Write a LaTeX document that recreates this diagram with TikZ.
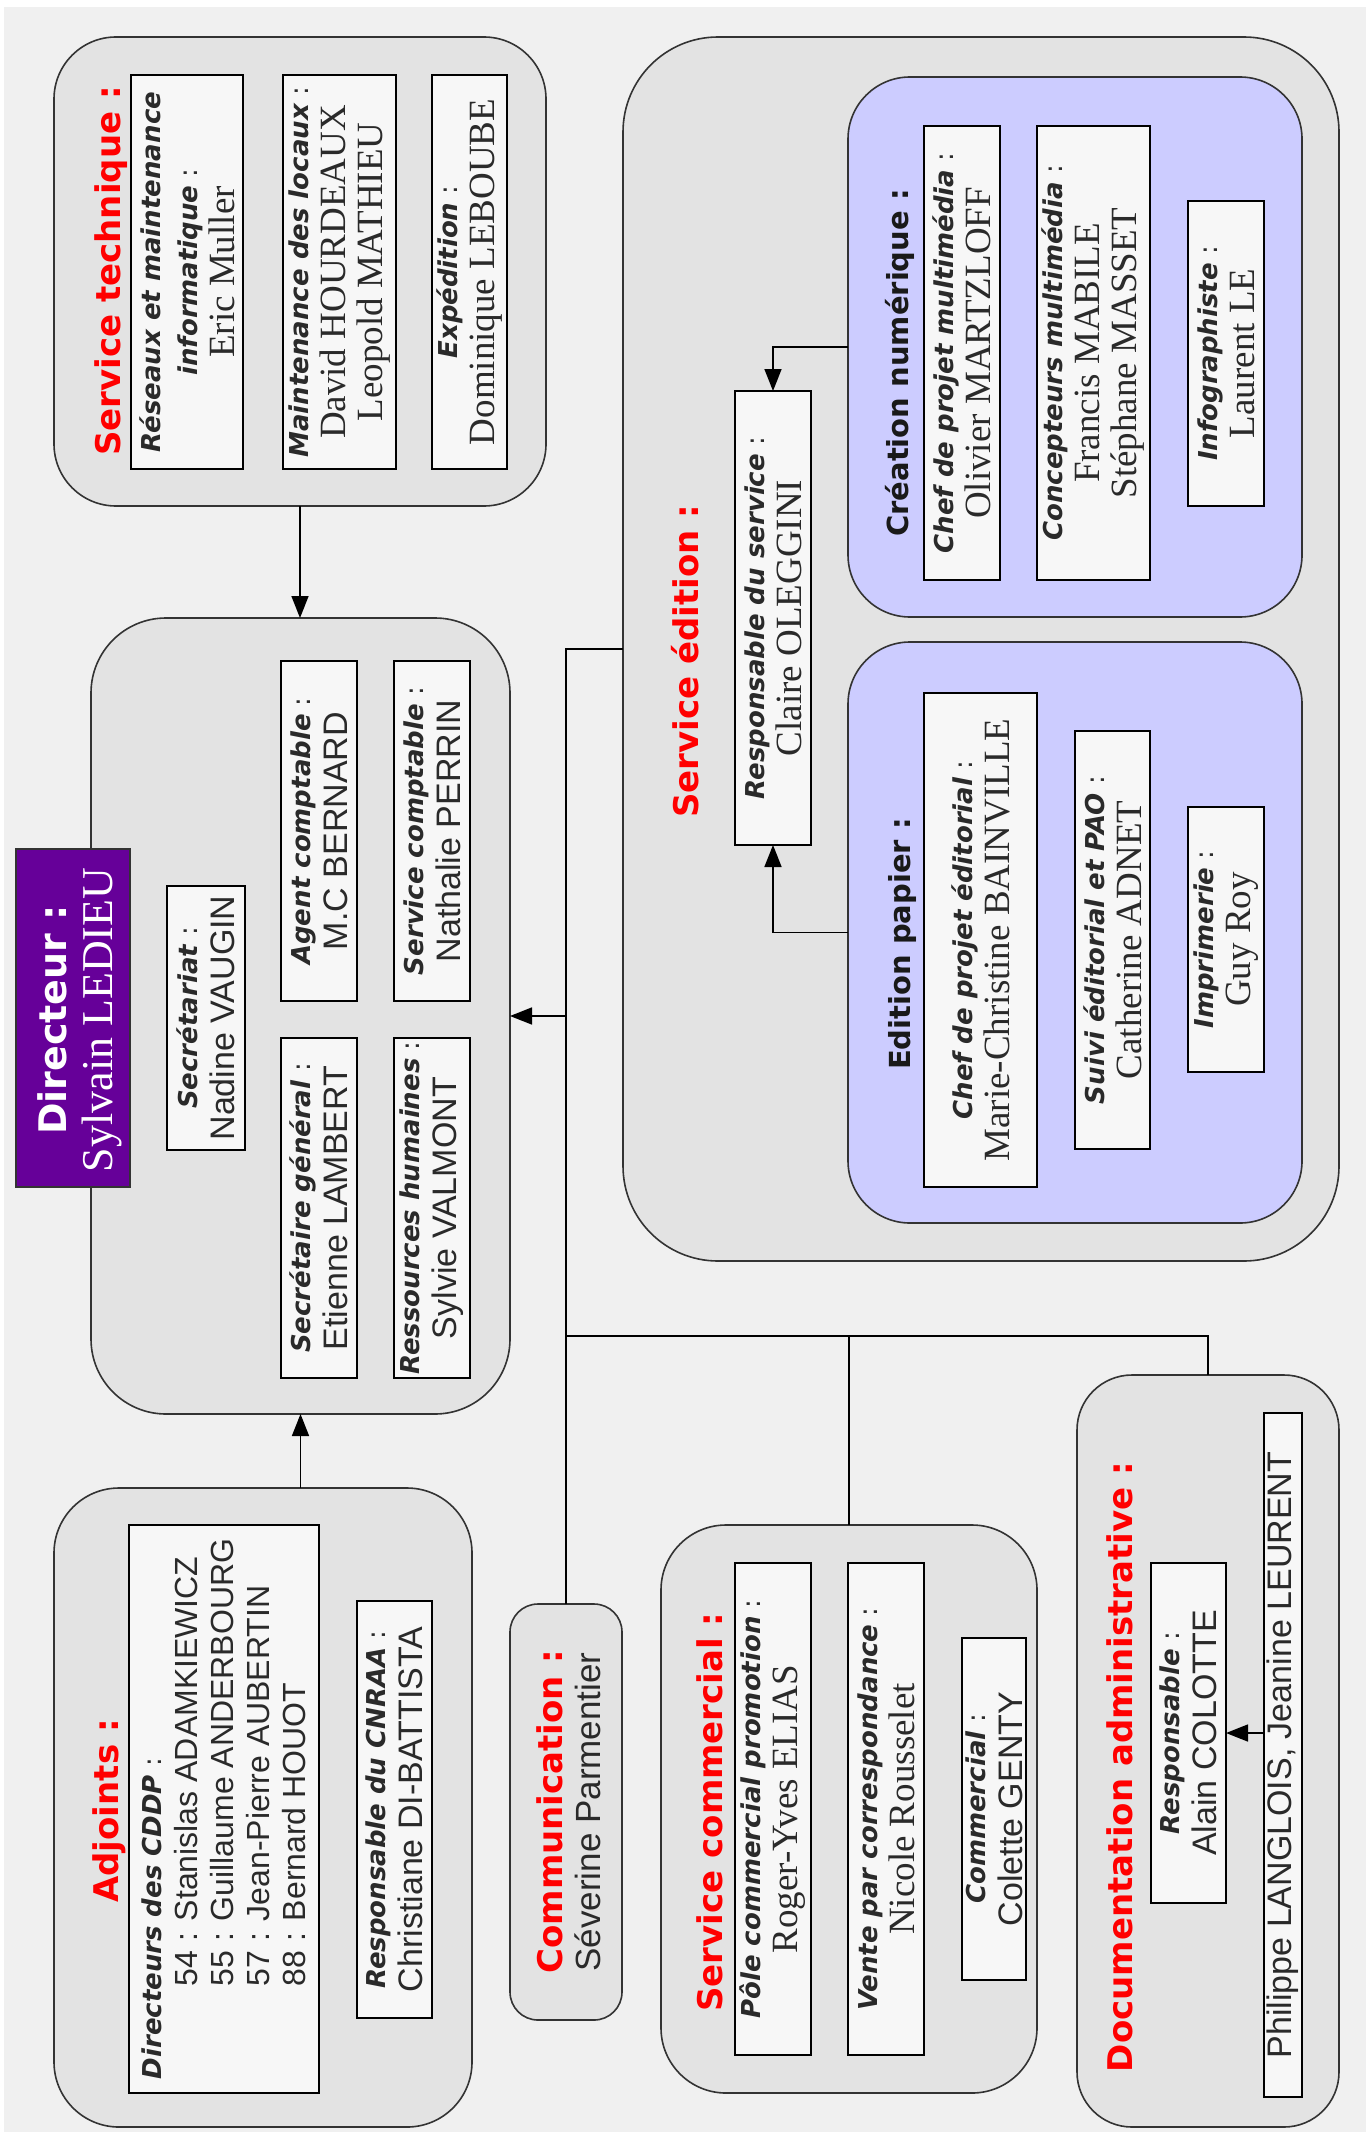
\documentclass[tikz,border=0pt]{standalone}
\usepackage{fontspec}
\setmainfont{Liberation Serif}
\newfontfamily\dvs{DejaVu Sans}
\newfontfamily\lsans{Liberation Sans}
\usetikzlibrary{arrows.meta}
\definecolor{bgc}{HTML}{F0F0F0}
\definecolor{grpc}{HTML}{E3E3E3}
\definecolor{innc}{HTML}{F7F7F7}
\definecolor{lavc}{HTML}{CCCCFF}
\definecolor{purpc}{HTML}{660099}
\definecolor{redc}{HTML}{FF0000}
\definecolor{inkc}{HTML}{2A2A2A}
\newcommand\lbl[1]{{\dvs\fontsize{26}{37}\selectfont\textbf{\textit{#1}}\ :}}
\newcommand\lbn[1]{{\dvs\fontsize{26}{37}\selectfont\textbf{\textit{#1}}}}
\newcommand\srf[1]{{\rmfamily\fontsize{37}{37}\selectfont #1}}
\newcommand\sns[1]{{\lsans\fontsize{34}{37}\selectfont #1}}
\newcommand\obox[6]{%
  \pgfmathsetmacro\ow{#5-#3}\pgfmathsetmacro\oh{#6-#4}%
  \node[#2, minimum width=\ow pt, minimum height=\oh pt, inner sep=0pt, outer sep=0pt, anchor=north west] (#1) at (#3,#4) {};}
\begin{document}
\begin{tikzpicture}[x=1pt,y=-1pt,
  grp/.style={draw=black!80, line width=1.6pt, fill=grpc},
  inb/.style={draw=black, line width=1.6pt, fill=innc},
  lavb/.style={draw=black!80, line width=1.6pt, fill=lavc},
  tx/.style={rotate=90, align=center, inner sep=0pt, text=inkc, font=\fontsize{35}{37}\selectfont},
  ttl/.style={rotate=90, anchor=base, inner sep=0pt, text=redc, font=\dvs\bfseries\fontsize{34}{40}\selectfont},
  sttl/.style={rotate=90, anchor=base, inner sep=0pt, text=black!90, font=\dvs\bfseries\fontsize{29}{34}\selectfont},
  conn/.style={line width=1.6pt, draw=black},
  arr/.style={conn, -{Triangle[length=22pt,width=17pt]}}]
\useasboundingbox (0,0) rectangle (1366,2132);
\fill[bgc] (0,0) rectangle (1366,2132);
\fill[white] (0,0) rectangle (1366,7);
\fill[white] (0,0) rectangle (4,2132);

% ---- group boxes
\obox{tech}{grp, rounded corners=62pt}{54}{37}{546}{506}
\obox{dirg}{grp, rounded corners=75pt}{91}{618}{510}{1414}
\obox{adj}{grp, rounded corners=65pt}{54}{1488}{472}{2127}
\obox{comm}{grp, rounded corners=28pt}{510}{1604}{622}{2020}
\obox{edit}{grp, rounded corners=95pt}{623}{37}{1339}{1261}
\obox{crea}{lavb, rounded corners=62pt}{848}{77}{1302}{617}
\obox{pap}{lavb, rounded corners=62pt}{848}{642}{1302}{1223}
\obox{scom}{grp, rounded corners=65pt}{661}{1525}{1037}{2093}
\obox{doc}{grp, rounded corners=55pt}{1077}{1375}{1339}{2127}

% ---- service technique
\node[ttl] (techT) at (120,271) {Service technique :};
\obox{t1}{inb}{131}{75}{243}{469}
\obox{t2}{inb}{283}{75}{396}{469}
\obox{t3}{inb}{432}{75}{507}{469}
\node[tx] (t1x) at (t1.center) {\lbn{Réseaux et maintenance}\\\lbl{informatique}\\\srf{Eric Muller}};
\node[tx] (t2x) at (t2.center) {\lbl{Maintenance des locaux}\\\srf{David HOURDEAUX}\\\srf{Leopold MATHIEU}};
\node[tx] (t3x) at (t3.center) {\lbl{Expédition}\\\srf{Dominique LEBOUBE}};

% ---- direction
\obox{sec}{inb}{167}{886}{245}{1150}
\obox{agent}{inb}{281}{661}{357}{1001}
\obox{scpt}{inb}{394}{661}{470}{1001}
\obox{sgen}{inb}{281}{1038}{357}{1378}
\obox{rh}{inb}{394}{1038}{470}{1378}
\node[tx] (secx) at (sec.center) {\lbl{Secrétariat}\\\sns{Nadine VAUGIN}};
\node[tx] (agentx) at (agent.center) {\lbl{Agent comptable}\\\sns{M.C BERNARD}};
\node[tx] (scptx) at (scpt.center) {\lbl{Service comptable}\\\sns{Nathalie PERRIN}};
\node[tx] (sgenx) at (sgen.center) {\lbl{Secrétaire général}\\\sns{Etienne LAMBERT}};
\node[tx] (rhx) at (rh.center) {\lbl{Ressources humaines}\\\sns{Sylvie VALMONT}};
\obox{dir}{draw=black!80, line width=1.6pt, fill=purpc}{16}{849}{130}{1187}
\node[tx, text=white, font=\fontsize{44}{46}\selectfont] (dirx) at (80,1020) {{\dvs\bfseries\fontsize{38}{46}\selectfont Directeur :}\\{\rmfamily Sylvain LEDIEU}};

% ---- adjoints
\node[ttl] (adjT) at (118,1811) {Adjoints :};
\obox{cddp}{inb}{129}{1525}{319}{2093}
\obox{cnraa}{inb}{357}{1601}{432}{2018}
\node[tx, align=left, font=\lsans\fontsize{32}{36}\selectfont] (cddpx) at (cddp.center) {\lbl{Directeurs des CDDP}\\
\hspace*{93pt}54 : Stanislas ADAMKIEWICZ\\
\hspace*{93pt}55 : Guillaume ANDERBOURG\\
\hspace*{93pt}57 : Jean-Pierre AUBERTIN\\
\hspace*{93pt}88 : Bernard HOUOT};
\node[tx] (cnraax) at (cnraa.center) {\lbl{Responsable du CNRAA}\\\sns{Christiane DI-BATTISTA}};

% ---- communication
\node[ttl] (commT) at (562,1812) {Communication :};
\node[rotate=90, anchor=base, inner sep=0pt, text=inkc, font=\lsans\fontsize{35}{37}\selectfont] (commx) at (600,1812) {Séverine Parmentier};

% ---- service commercial
\node[ttl] (scomT) at (722,1812) {Service commercial :};
\obox{pole}{inb}{735}{1563}{811}{2055}
\obox{vente}{inb}{848}{1563}{924}{2055}
\obox{comml}{inb}{962}{1638}{1026}{1980}
\node[tx] (polex) at (pole.center) {\lbl{Pôle commercial promotion}\\\srf{Roger-Yves ELIAS}};
\node[tx] (ventex) at (vente.center) {\lbl{Vente par correspondance}\\\srf{Nicole Rousselet}};
\node[tx] (commlx) at (comml.center) {\lbl{Commercial}\\\sns{Colette GENTY}};

% ---- documentation administrative
\node[ttl] (docT) at (1132,1767) {Documentation administrative :};
\obox{resp2}{inb}{1151}{1563}{1226}{1903}
\obox{phil}{inb}{1264}{1413}{1302}{2097}
\node[tx] (resp2x) at (resp2.center) {\lbl{Responsable}\\\sns{Alain COLOTTE}};
\node[tx] (philx) at (phil.center) {\sns{Philippe LANGLOIS, Jeanine LEURENT}};

% ---- service edition
\node[ttl] (editT) at (698,661) {Service édition :};
\obox{resp}{inb}{735}{391}{811}{845}
\node[tx] (respx) at (resp.center) {\lbl{Responsable du service}\\\srf{Claire OLEGGINI}};
\node[sttl] (creaT) at (908,363) {Création numérique :};
\obox{cpm}{inb}{924}{126}{1000}{580}
\obox{conc}{inb}{1037}{126}{1150}{580}
\obox{info}{inb}{1188}{201}{1264}{506}
\node[tx] (cpmx) at (cpm.center) {\lbl{Chef de projet multimédia}\\\srf{Olivier MARTZLOFF}};
\node[tx] (concx) at (conc.center) {\lbl{Concepteurs multimédia}\\\srf{Francis MABILE}\\\srf{Stéphane MASSET}};
\node[tx] (infox) at (info.center) {\lbl{Infographiste}\\\srf{Laurent LE}};
\node[sttl] (papT) at (910,944) {Edition papier :};
\obox{cpe}{inb}{924}{693}{1037}{1187}
\obox{suivi}{inb}{1075}{731}{1150}{1149}
\obox{impr}{inb}{1188}{807}{1264}{1072}
\node[tx] (cpex) at (cpe.center) {\lbl{Chef de projet éditorial}\\\srf{Marie-Christine BAINVILLE}};
\node[tx] (suivix) at (suivi.center) {\lbl{Suivi éditorial et PAO}\\\srf{Catherine ADNET}};
\node[tx] (imprx) at (impr.center) {\lbl{Imprimerie}\\\srf{Guy Roy}};

% ---- connectors
\coordinate (hb) at (566,1336);
\draw[arr] (tech.south) -- (tech.south |- dirg.north);
\draw[arr] (dirg.south |- adj.north) -- (dirg.south);
\draw[conn] (edit.west) -| (comm.north);
\draw[arr] (comm.north |- dirg.east) -- (dirg.east);
\draw[conn] (hb) -| (scom.north);
\draw[conn] (hb) -| (doc.north);
\draw[arr] (crea.west) -| (resp.north);
\draw[arr] (pap.west) -| (resp.south);
\draw[arr] (resp2.east -| phil.west) -- (resp2.east);
\end{tikzpicture}
\end{document}
